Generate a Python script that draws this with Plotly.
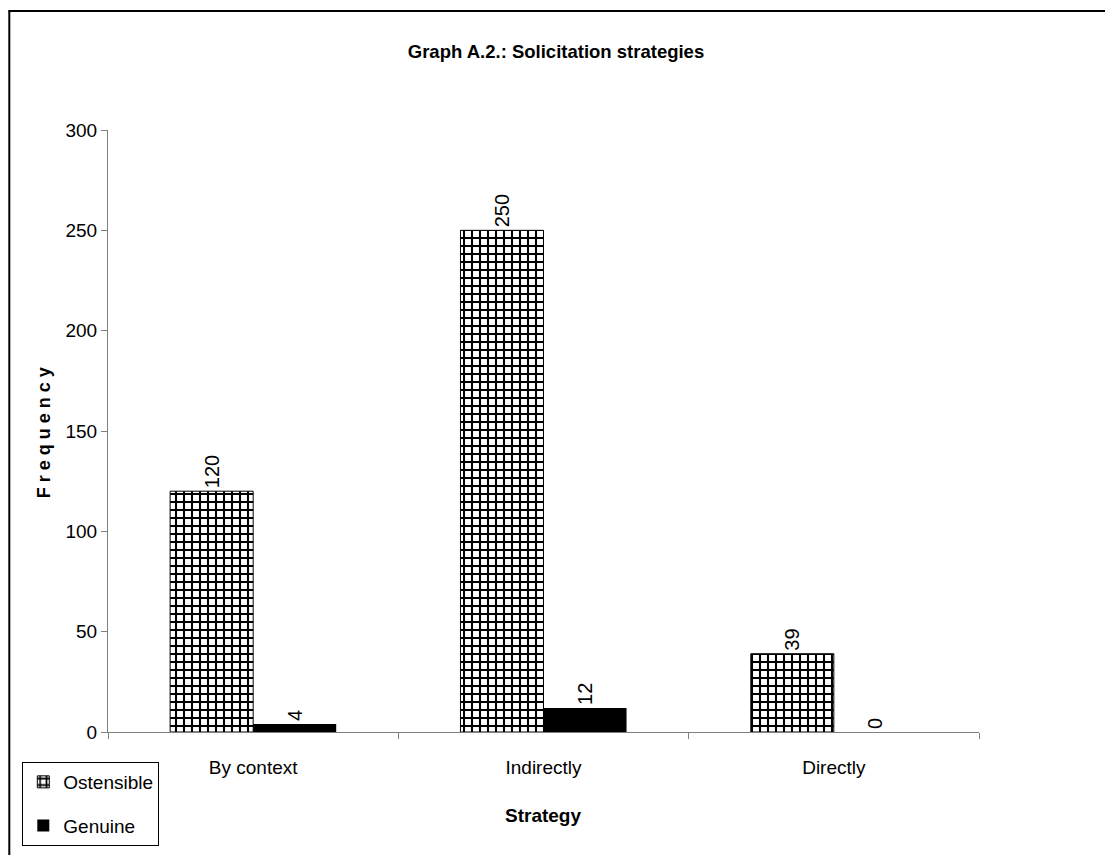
import plotly.graph_objects as go

categories = ["By context", "Indirectly", "Directly"]
ostensible = [120, 250, 39]
genuine = [4, 12, 0]
y_ticks = [0, 50, 100, 150, 200, 250, 300]

FONT = "Liberation Sans, Arial, sans-serif"

# plot area in figure pixel coordinates (page adds an 8px body margin)
PL, PR, PT, PB = 99.7, 970.7, 122.0, 724.0
W, H = 1113, 855
PW, PH = PR - PL, PB - PT

def px(x):
    return (x - PL) / PW

def py(y):
    return (PB - y) / PH

fig = go.Figure()
fig.add_trace(go.Bar(
    x=categories, y=ostensible, name="Ostensible", legendgroup="a",
    marker=dict(color="white", line=dict(color="black", width=1),
                pattern=dict(shape="+", fgcolor="black", fgopacity=1, bgcolor="white",
                             size=8, solidity=0.45)),
    text=[str(v) for v in ostensible], textposition="outside", textangle=-90,
    textfont=dict(family=FONT, size=20, color="black"), cliponaxis=False,
))
fig.add_trace(go.Bar(
    x=categories, y=genuine, name="Genuine", legendgroup="b",
    marker=dict(color="black", line=dict(color="black", width=0)),
    text=[str(v) for v in genuine], textposition="outside", textangle=-90,
    textfont=dict(family=FONT, size=20, color="black"), cliponaxis=False,
))

fig.update_layout(
    width=W, height=H,
    margin=dict(l=PL, r=W - PR, t=PT, b=H - PB, autoexpand=False),
    paper_bgcolor="white", plot_bgcolor="white",
    font=dict(family=FONT, size=19, color="black"),
    barmode="group", bargap=0.428, bargroupgap=0,
    showlegend=True,
    title=dict(text="<b>Graph A.2.: Solicitation strategies</b>", x=(556 - 8) / W, xanchor="center",
               y=1 - (52 - 8) / H, yanchor="middle", yref="container",
               font=dict(family=FONT, size=18.5, color="black")),
    legend=dict(x=px(22 - 8), y=py(762 - 8), xanchor="left", yanchor="top",
                bordercolor="black", borderwidth=1, bgcolor="white",
                font=dict(family=FONT, size=19, color="black"),
                itemwidth=30, tracegroupgap=16, traceorder="grouped"),
    xaxis=dict(showline=True, linecolor="#808080", linewidth=1, ticks="outside",
               tickson="boundaries", ticklen=6, tickcolor="#808080", showgrid=False,
               ticklabelstandoff=18, tickfont=dict(family=FONT, size=19, color="black")),
    yaxis=dict(range=[0, 300], tickvals=y_ticks, showline=True, linecolor="#808080", linewidth=1,
               ticks="outside", ticklen=6, tickcolor="#808080", showgrid=False, zeroline=False,
               tickfont=dict(family=FONT, size=19, color="black")),
    annotations=[
        dict(text="<b>Strategy</b>", xref="paper", yref="paper", x=px(543 - 8), y=py(815 - 8),
             xanchor="center", yanchor="middle", showarrow=False,
             font=dict(family=FONT, size=19, color="black")),
        dict(text="<b>F r e q u e n c y</b>", xref="paper", yref="paper", x=px(44 - 8), y=py(433 - 8),
             xanchor="center", yanchor="middle", textangle=-90, showarrow=False,
             font=dict(family=FONT, size=18, color="black")),
    ],
    shapes=[
        dict(type="line", xref="paper", yref="paper", x0=px(0), x1=px(W),
             y0=py(3), y1=py(3), line=dict(color="black", width=2)),
        dict(type="line", xref="paper", yref="paper", x0=px(1), x1=px(1),
             y0=py(3), y1=py(H), line=dict(color="black", width=2)),
    ],
)

fig.write_html("out.html")
